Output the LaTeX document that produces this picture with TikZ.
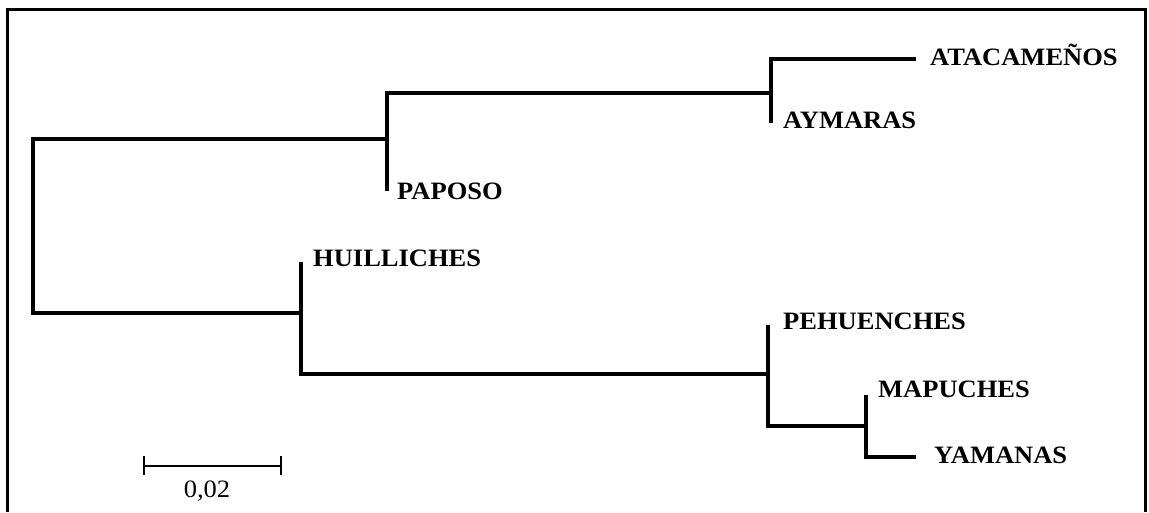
\documentclass[tikz,border=0pt]{standalone}
\usepackage{fontspec}
\setmainfont{Liberation Serif}[FakeStretch=1.06]
\begin{document}
\begin{tikzpicture}[x=1pt,y=-1pt,
  branch/.style={line width=3.2pt},
  frame/.style={line width=3pt},
  taxon/.style={anchor=base west,inner sep=0pt,font=\fontsize{25}{29}\selectfont\bfseries},
  scalebar/.style={line width=2.2pt},
  scalelabel/.style={anchor=base,inner sep=0pt,font=\fontsize{25}{29}\selectfont}]
\useasboundingbox (0,0) rectangle (1149,512);
% frame (open at the bottom)
\draw[frame] (7,512) -- (7,9) -- (1145,9) -- (1145,512);

% tips and internal nodes
\coordinate (ataTip) at (916,59);
\coordinate (aymTip) at (771,123);
\coordinate (aa)     at (771,93);
\coordinate (papTip) at (387,191);
\coordinate (up)     at (387,139);
\coordinate (rootLo) at (33,313);
\coordinate (lo)     at (301,313);
\coordinate (huiTip) at (301,262);
\coordinate (pe)     at (768,374);
\coordinate (pehTip) at (768,325);
\coordinate (ma)     at (866,426);
\coordinate (mapTip) at (866,395);
\coordinate (yamTip) at (916,457);

% branches
\draw[branch] (ataTip) -| (aymTip);
\draw[branch] (aa) -| (papTip);
\draw[branch] (up) -| (rootLo) -- (lo);
\draw[branch] (huiTip) |- (pe);
\draw[branch] (pehTip) |- (ma);
\draw[branch] (mapTip) |- (yamTip);

% taxon labels
\node[taxon] (ata) at (930,65)  {ATACAMEÑOS};
\node[taxon] (aym) at (783,128) {AYMARAS};
\node[taxon] (pap) at (397,199) {PAPOSO};
\node[taxon] (hui) at (313,266) {HUILLICHES};
\node[taxon] (peh) at (783,329) {PEHUENCHES};
\node[taxon] (map) at (878,397) {MAPUCHES};
\node[taxon] (yam) at (934,463) {YAMANAS};

% scale bar
\coordinate (sbL) at (144,466);
\coordinate (sbR) at (281,466);
\draw[scalebar] (sbL) -- (sbR);
\draw[scalebar] ([yshift=-9pt]sbL) -- ([yshift=10pt]sbL);
\draw[scalebar] ([yshift=-9pt]sbR) -- ([yshift=10pt]sbR);
\node[scalelabel] (sbText) at (207,497) {0,02};
\end{tikzpicture}
\end{document}
